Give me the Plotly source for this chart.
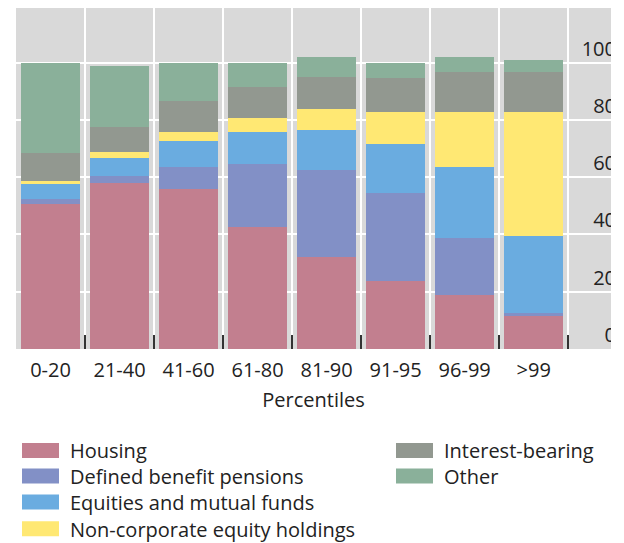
import plotly.graph_objects as go

categories = ["0-20", "21-40", "41-60", "61-80", "81-90", "91-95", "96-99", ">99"]

housing = [50.7, 57.8, 55.9, 42.7, 32.0, 23.6, 18.7, 11.6]
defined_benefit = [1.7, 2.7, 7.7, 22.0, 30.6, 30.9, 20.1, 1.1]
equities = [5.3, 6.2, 9.1, 11.1, 13.9, 17.1, 24.8, 26.8]
non_corporate = [1.0, 2.1, 3.1, 4.9, 7.3, 11.2, 19.2, 43.3]
interest_bearing = [9.8, 8.9, 10.8, 10.8, 11.2, 11.9, 14.0, 14.0]
other = [31.5, 21.1, 13.4, 8.5, 7.0, 5.2, 5.2, 4.1]

series_names = ["Housing", "Defined benefit pensions", "Equities and mutual funds",
                "Non-corporate equity holdings", "Interest-bearing", "Other"]
series_values = [housing, defined_benefit, equities, non_corporate, interest_bearing, other]
series_colors = ["#C27F8F", "#8290C6", "#6AACE0", "#FFE873", "#929890", "#8AB09A"]

y_ticks = [0, 20, 40, 60, 80, 100]

FONT = "Open Sans"
OFF = 8  # page body margin offset
W, H = 624 - OFF, 543 - OFF
L, R, T = 16 - OFF, 624 - 611, 0
B = H - (349.3 - OFF)
pw = W - L - R
ph = H - T - B

fig = go.Figure()
for name, vals, col in zip(series_names, series_values, series_colors):
    fig.add_trace(go.Bar(x=categories, y=vals, name=name, marker_color=col,
                         marker_line_width=0, showlegend=False))

def px2paper(x, y):
    fx, fy = x - OFF, y - OFF
    return (fx - L) / pw, (H - B - fy) / ph

shapes = []
annotations = []
# manual legend: 4 entries in first column, 2 in second
legend_pos = [(22, 450.8), (22, 476.5), (22, 502.5), (22, 529.2), (396, 450.8), (396, 476.5)]
for (sx, sy), name, col in zip(legend_pos, series_names, series_colors):
    x0, y0 = px2paper(sx, sy - 7.5)
    x1, y1 = px2paper(sx + 37, sy + 7.5)
    shapes.append(dict(type="rect", xref="paper", yref="paper", x0=x0, x1=x1, y0=y1, y1=y0,
                       fillcolor=col, line=dict(width=0)))
    tx, ty = px2paper(sx + 46, sy + 0.5)
    annotations.append(dict(xref="paper", yref="paper", x=tx, y=ty, text=name, showarrow=False,
                            xanchor="left", yanchor="middle",
                            font=dict(family=FONT, size=20, color="#222222")))

# white mask clipping the right-side labels at the plot edge
shapes.append(dict(type="rect", xref="paper", yref="paper", x0=1, x1=1.05, y0=-0.05, y1=1.05,
                   fillcolor="white", line=dict(width=0), layer="above"))

fig.update_layout(
    width=W, height=H,
    margin=dict(l=L, r=R, t=T, b=B, autoexpand=False),
    paper_bgcolor="white", plot_bgcolor="#D9D9D9",
    barmode="stack", bargap=0.145,
    font=dict(family=FONT, size=20, color="#222222"),
    shapes=shapes, annotations=annotations,
    xaxis=dict(type="category", range=[-0.5, 8.12], tickson="boundaries",
               showgrid=True, gridcolor="white", gridwidth=1.5,
               ticks="inside", ticklen=14, tickwidth=1.5, tickcolor="#333333",
               ticklabelstandoff=7,
               tickfont=dict(family=FONT, size=20, color="#222222"),
               title=dict(text="Percentiles", standoff=10,
                          font=dict(family=FONT, size=20, color="#222222")),
               showline=False, zeroline=False, fixedrange=True),
    yaxis=dict(range=[0, (349.3 - OFF) / 2.866], side="right", tickvals=y_ticks,
               showgrid=True, gridcolor="white", gridwidth=1.5,
               ticks="", ticklabelposition="inside top", ticklabelstandoff=-8,
               tickfont=dict(family=FONT, size=20, color="#222222"),
               showline=False, zeroline=False, fixedrange=True),
)

fig.write_html("out.html")
